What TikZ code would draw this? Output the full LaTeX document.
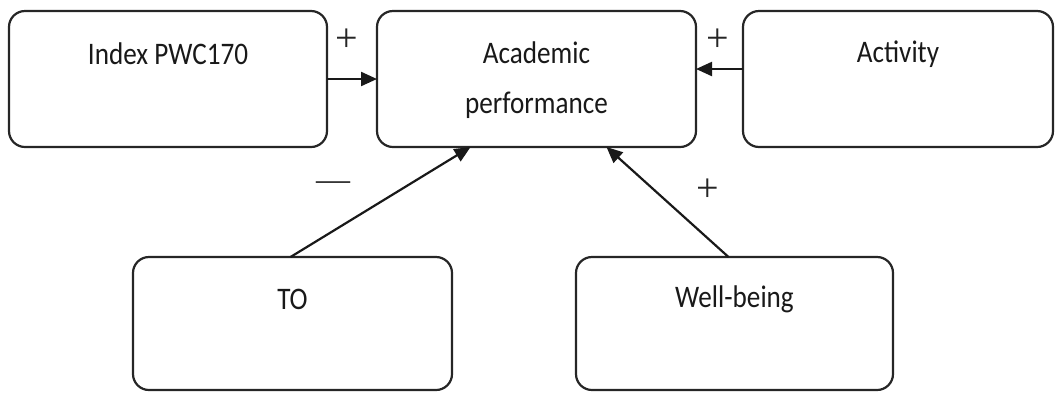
\documentclass[tikz,border=0pt]{standalone}
\usepackage{fontspec}
\setmainfont{Carlito}
\newfontfamily\signfont{Liberation Serif}
\usetikzlibrary{arrows.meta}
\newcommand{\tallword}[1]{\scalebox{0.97}[1.12]{#1}}
\begin{document}
\begin{tikzpicture}[x=1pt,y=-1pt,
  box/.style={draw=black!85, line width=2.2pt, rounded corners=16pt,
    minimum height=136pt, inner sep=0pt, outer sep=0pt},
  lbl/.style={font=\fontsize{28}{50}\selectfont, align=center, text=black!90},
  sign/.style={font=\signfont\fontsize{40}{40}\selectfont, text=black!85, inner sep=0pt},
  link/.style={line width=2.2pt, draw=black!90, -{Triangle[length=16pt,width=14pt]}}]
\useasboundingbox (0,0) rectangle (1056,392);
% boxes
\node[box, minimum width=318pt] (idx) at (168,79) {};
\node[box, minimum width=319pt] (acad) at (536.5,79) {};
\node[box, minimum width=310pt] (act) at (898,79) {};
\node[box, minimum width=319pt, minimum height=133pt] (to) at (292.5,323.5) {};
\node[box, minimum width=317pt, minimum height=133pt] (wb) at (734.5,323.5) {};
% texts
\node[lbl] (idxT) at (168,54) {\tallword{Index PWC170}};
\node[lbl] (acadT) at (536.5,80) {\tallword{Academic}\\\tallword{performance}};
\node[lbl] (actT) at (898,54) {\tallword{Activity}};
\node[lbl] (toT) at (292.5,299) {\tallword{TO}};
\node[lbl] (wbT) at (734.5,299) {\tallword{Well-being}};
% connectors
\draw[link] (idx.east) -- (acad.west);
\draw[link] ([yshift=10pt]act.west) -- ([yshift=10pt]acad.east);
\draw[link] ([xshift=-2pt]to.north) -- ([xshift=-66pt]acad.south);
\draw[link] ([xshift=-6pt]wb.north) -- ([xshift=70pt]acad.south);
% signs
\node[sign] (s1) at (347,40) {+};
\node[sign] (s2) at (718,40) {+};
\node[sign] (s3) at (708,190) {+};
\node[sign, font=\signfont\fontsize{34}{34}\selectfont] (s4) at (333,186) {—};
\end{tikzpicture}
\end{document}
